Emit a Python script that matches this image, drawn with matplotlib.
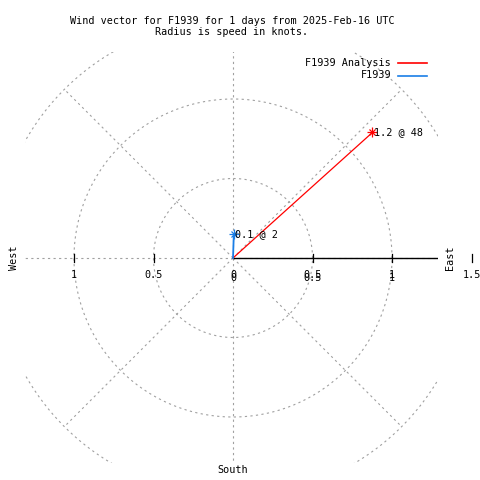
import numpy as np
import matplotlib
matplotlib.use('Agg')
import matplotlib.pyplot as plt

# Data
series_names = ['F1939 Analysis', 'F1939']
series_colors = ['#ff0000', '#1a7ee6']
speeds = [1.18, 0.15]          # knots (radius)
directions = [48, 2]           # degrees, clockwise from north
point_labels = ['1.2 @ 48', '0.1 @ 2']
grid_radii = [0.5, 1.0, 1.5]
spoke_angles = [0, 45, 90, 135, 180, 225, 270, 315]
right_ticks = [0.5, 1.0, 1.5]
right_labels = ['0.5', '1', '1.5']
left_ticks = [0.5, 1.0]
left_labels = ['0.5', '1']

title = 'Wind vector for F1939 for 1 days from 2025-Feb-16 UTC\nRadius is speed in knots.'

plt.rcParams['font.family'] = ['DejaVu Sans Mono']
FS = 7.3
GRID = '#a0a0a0'

fig = plt.figure(figsize=(4.8, 4.8), dpi=100)
# plot box in pixels: x 25..438, y 52..463 (from top); centre (233, 258), 159 px per knot
px = 159.0
cx, cy = 233, 258
L, R, T, B = 25, 438, 52, 463
ax = fig.add_axes([L / 480, (480 - B) / 480, (R - L) / 480, (B - T) / 480])
ax.set_xlim((L - cx) / px, (R - cx) / px)
ax.set_ylim(-(B - cy) / px, (cy - T) / px)
ax.set_aspect('auto')
ax.axis('off')

dash = (0, (2, 3))
th = np.linspace(0, 2 * np.pi, 400)
for r in grid_radii:
    ax.plot(r * np.cos(th), r * np.sin(th), color=GRID, lw=0.8, ls=dash)
for a in spoke_angles:
    t = np.radians(a)
    ax.plot([0, 1.5 * np.cos(t)], [0, 1.5 * np.sin(t)], color=GRID, lw=0.8, ls=dash)

# east axis (solid) with ticks, drawn unclipped
ax.plot([0, (R - cx) / px], [0, 0], color='black', lw=1.0)
tk = 4 / px
for v in right_ticks:
    ax.plot([v, v], [-tk, tk], color='black', lw=0.9, clip_on=False)
for v in left_ticks:
    ax.plot([-v, -v], [-tk, tk], color='black', lw=0.9, clip_on=False)

ly = -17 / px
for dy in (0, -3 / px):
    ax.text(0, ly + dy, '0', ha='center', va='center', fontsize=FS, clip_on=False)
    for v, s in zip(right_ticks[:2], right_labels[:2]):
        ax.text(v, ly + dy, s, ha='center', va='center', fontsize=FS, clip_on=False)
ax.text(right_ticks[2], ly, right_labels[2], ha='center', va='center', fontsize=FS, clip_on=False)
for v, s in zip(left_ticks, left_labels):
    ax.text(-v, ly, s, ha='center', va='center', fontsize=FS, clip_on=False)

ax.text((450 - cx) / px, 0, 'East', rotation=90, ha='center', va='center', fontsize=FS, clip_on=False)
ax.text((14 - cx) / px, 0, 'West', rotation=90, ha='center', va='center', fontsize=FS, clip_on=False)
ax.text(0, -(470 - cy) / px, 'South', ha='center', va='center', fontsize=FS, clip_on=False)

# wind vectors
for spd, d, col, lab in zip(speeds, directions, series_colors, point_labels):
    t = np.radians(90 - d)
    x, y = spd * np.cos(t), spd * np.sin(t)
    ax.plot([0, x], [0, y], color=col, lw=0.9 if col == '#ff0000' else 1.3)
    ax.plot([x], [y], marker='+', color=col, ms=7, mew=0.9)
    ax.plot([x], [y], marker='x', color=col, ms=5, mew=0.9)
    ax.text(x + 1.5 / px, y, lab, ha='left', va='center', fontsize=FS)

# legend
for i, (n, c) in enumerate(zip(series_names, series_colors)):
    yy = 62.5 + i * 13
    fig.text(391 / 480, 1 - yy / 480, n, ha='right', va='center', fontsize=FS)
    fig.add_artist(plt.Line2D([398 / 480, 427 / 480], [1 - yy / 480] * 2, color=c, lw=1.2))

fig.text(232 / 480, 1 - 26.5 / 480, title, ha='center', va='center', fontsize=FS, linespacing=1.2)

fig.savefig('out.png', dpi=100)
